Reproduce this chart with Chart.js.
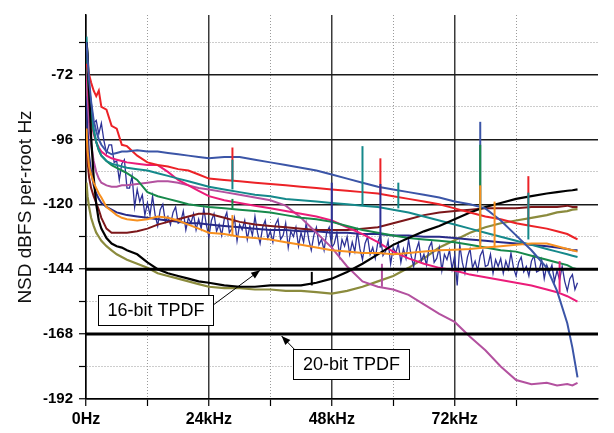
<!DOCTYPE html>
<html>
<head>
<meta charset="utf-8">
<title>NSD</title>
<script src="https://cdn.jsdelivr.net/npm/chart.js@4.4.0/dist/chart.umd.min.js"></script>
<style>
  html, body { margin: 0; padding: 0; background: #fff; }
  #wrap { width: 614px; height: 433px; }
</style>
</head>
<body>
<div id="wrap"><canvas id="nsd" width="614" height="433"></canvas></div>
<script>
// frequency grid (kHz) shared by the smoother traces
const FREQ = [0.1,0.3,0.6,1,1.5,2,2.5,3, 4,5,6,7,8, 10,12,14,16,18,20,22,24,
  27,30,33,36,39,42,45,48, 51,54,57,60,63,66,69,72, 75,78,81,84,87,90, 92,94,95,96];

// dBFS per root Hz
const blue = [-60,-66,-74,-82,-89,-93,-96,-98, -100.5,-101.5,-101,-100.5,-100.5,
  -100,-100.5,-100.5,-101,-101.5,-102,-102.5,-103, -102.5,-102.5,-103.5,-104.5,-105.5,-106.5,-107.5,-109,
  -110.5,-112,-113.5,-114.5,-115.5,-116.5,-117.5,-119, -120,-121.5,-126,-131.5,-137,-143.5, -152,-164,-173,-184];
const red = [-68,-70,-72,-75,-78,-80,-78,-84, -85,-91,-92,-98,-98.5,
  -102,-104.5,-105.5,-106,-107,-107.5,-109,-110.5, -111,-111.5,-112,-112.5,-113,-113.5,-114,-114.5,
  -115,-115.5,-116,-117,-118,-119,-120,-121.5, -123,-124.5,-125.5,-127,-128,-129, -130,-131,-132,-133];
const teal = [-58,-66,-76,-85,-92,-97,-100,-102, -104,-105,-105.5,-106,-106.5,
  -107,-107.5,-108.5,-109.5,-110.5,-111.5,-112.5,-113.5, -114.5,-115.5,-116.5,-117,-118,-118.5,-119,-119.5,
  -120,-120.5,-121,-122,-123,-124.5,-126,-127.5, -129,-130.5,-132,-133.5,-135,-136.5, -137.5,-138.5,-139,-139.5];
const green = [-66,-72,-80,-87,-93,-97,-100,-102, -104,-105.5,-106.5,-107.5,-108.5,
  -111,-115.5,-117,-118,-119,-120,-120.5,-121, -121.5,-122,-122.5,-123,-124,-125,-125.5,-126.5,
  -128,-129.5,-130.5,-131.5,-132.5,-133,-133.5,-134, -135,-136,-137,-137.5,-139,-140.5, -141.5,-142.5,-143.5,-144];
const pink = [-70,-76,-83,-89,-94,-97,-99,-100.5, -102,-103,-103.5,-104,-104.5,
  -105,-105.5,-105.5,-108,-111,-113,-115,-117, -118.5,-119.5,-120.5,-121.5,-122.5,-123.5,-124.5,-126,
  -128.5,-131,-134,-137.5,-140,-142,-143.5,-144.5, -146,-147,-148,-149,-150,-151.5, -152.5,-154,-155,-156];
const orchid = [-72,-80,-90,-98,-104,-108,-110.5,-112, -113,-113.5,-113.5,-113,-113,
  -112.5,-112,-111.5,-111.5,-112,-113,-114,-114.5, -115.5,-116.5,-117.5,-118.5,-120.5,-125,-130.5,-136,
  -143,-148.5,-150.5,-151.5,-153.5,-157,-160.5,-163.5, -169,-174,-180,-185,-186.5,-186, -187,-186.5,-187,-186];
const maroon = [-96,-104,-110,-114,-117,-119.5,-122,-125, -129,-130.5,-130.5,-130.5,-130.5,
  -130,-129,-127.5,-126.5,-125.5,-124.5,-123.5,-123.5, -125,-126.5,-127.5,-128,-128.5,-129,-129.5,-129.5,
  -129.5,-129,-128.5,-127,-125.5,-124,-123,-122.5, -122,-121.5,-121.5,-121.5,-121,-121, -121,-120.5,-121,-121];
const orange = [-92,-100,-106,-109,-112,-114,-116,-117.5, -121,-122.5,-124,-125,-125.5,
  -126,-125.5,-124.5,-125,-126,-127.5,-129,-130.5, -131,-132,-132.5,-133,-134,-135,-136,-137,
  -137.5,-138,-138,-138.5,-138,-137.5,-137,-136.8, -136.5,-136,-135.5,-135,-134.5,-134.5, -135.5,-136.5,-137,-137.5];
const black = [-60,-64,-78,-95,-110,-120,-126,-129, -132.5,-134.5,-135.5,-136,-137,
  -138.5,-141.5,-144,-145.5,-146.5,-147.5,-148.5,-149, -150,-150.5,-150.5,-150,-150,-150,-149,-147.5,
  -145,-142,-138.5,-135,-132.5,-130,-128,-125.5, -123,-121,-119.5,-118,-117,-116, -115.5,-115,-114.8,-114.5];
const olive = [-112,-117,-121,-125,-128,-130.5,-132,-133.5, -135.5,-137,-138.5,-139.5,-140.5,
  -142,-143.5,-145.5,-146.5,-147.5,-148.5,-149.5,-150.5, -151,-151,-151.5,-151.5,-152,-152,-152.5,-153,
  -152,-150.5,-148.5,-146.5,-143.5,-140,-136,-133.3, -130.5,-128.5,-127,-126,-125,-124, -123,-122.5,-122,-121.8];
const navySmooth = [-80,-92,-102,-108,-113,-116,-118,-119.5, -121,-122,-123,-123.5,-124,
  -124.5,-125,-125.5,-126,-126.5,-127,-127,-127.5, -128,-128.5,-129,-129.5,-129.5,-130,-130,-130.5,
  -130.5,-131,-131,-131.5,-131.5,-132,-132,-132.5, -133,-133.5,-134,-134.5,-135,-135.5, -136,-136.5,-137,-137];

// the noisy navy trace has its own 0.5 kHz grid
const NAVY_F = [0.2,0.5,
  1,1.5,2,2.5,3,3.5,4,4.5,5,5.5, 6,6.5,7,7.5,8,8.5,9,9.5,10,10.5,
  11,11.5,12,12.5,13,13.5,14,14.5,15,15.5, 16,16.5,17,17.5,18,18.5,19,19.5,20,20.5,
  21,21.5,22,22.5,23,23.5,24,24.5,25,25.5, 26,26.5,27,27.5,28,28.5,29,29.5,30,30.5,
  31,31.5,32,32.5,33,33.5,34,34.5,35,35.5, 36,36.5,37,37.5,38,38.5,39,39.5,40,40.5,
  41,41.5,42,42.5,43,43.5,44,44.5,45,45.5, 46,46.5,47,47.5,48,48.5,49,49.5,50,50.5,
  51,51.5,52,52.5,53,53.5,54,54.5,55,55.5, 56,56.5,57,57.5,58,58.5,59,59.5,60,60.5,
  61,61.5,62,62.5,63,63.5,64,64.5,65,65.5, 66,66.5,67,67.5,68,68.5,69,69.5,70,70.5,
  71,71.5,72,72.5,73,73.5,74,74.5,75,75.5, 76,76.5,77,77.5,78,78.5,79,79.5,80,80.5,
  81,81.5,82,82.5,83,83.5,84,84.5,85,85.5, 86,86.5,87,87.5,88,88.5,89,89.5,90,90.5,
  91,91.5,92,92.5,93,93.5,94,94.5,95,95.5, 96];
const navyNoisy = [-66,-74,
  -82,-90,-89,-94,-90,-96.5,-101,-98,-98,-104.5, -104,-111,-105,-103.5,-114,-114,-109.5,-121,-114.5,-119,
  -116.5,-124,-119.5,-124,-117,-124,-128,-122,-120,-126.5, -124.5,-127.5,-123,-121,-127,-126.5,-122.5,-129.5,-125,-127,
  -123.5,-129.5,-125.5,-129,-121.5,-127.5,-132,-126,-123.5,-130, -127.5,-131.5,-125.5,-123,-130.5,-129,-125,-133.5,-127.5,-129.5,
  -126,-133,-128,-131.5,-124.5,-130.5,-134.5,-128.5,-126,-132.5, -130,-134,-127.5,-125.5,-133,-131.5,-127,-136,-130,-132,
  -128.5,-135.5,-130.5,-134,-127,-133,-137,-131.5,-128.5,-135, -133,-137,-130.5,-128.5,-136,-134.5,-130.5,-139,-133,-135.5,
  -132,-138.5,-134,-137.5,-130,-136.5,-140.5,-134.5,-132,-138.5, -136,-140,-134,-131.5,-139,-137.5,-133.5,-142,-136,-138,
  -134.5,-141.5,-136.5,-140,-133,-139,-143,-137,-134,-141, -138.5,-142.5,-136,-134,-141.5,-140,-136,-144.5,-138.5,-140.5,
  -137,-144,-139,-150,-135,-141.5,-145.5,-139.5,-136.5,-143.5, -141,-144.5,-139,-137,-143,-142.5,-138.5,-145.5,-140.5,-143,
  -140,-145.5,-141,-144,-138,-143.5,-146.5,-141.5,-139.5,-145, -143,-146.5,-141,-139,-145,-144.5,-140.5,-147.5,-142.5,-145,
  -142.5,-148.5,-144.5,-148,-143,-148.5,-152,-147.5,-146,-151.5, -149];

// narrow tones: frequency, floor, peak, trace
const spikeFreq = [28.6, 28.6, 28.6, 28.6, 44.1, 48, 54, 57.5, 57.5, 57.8, 61, 77, 77, 77, 79.8, 86.4, 86.4, 92.5];
const spikeFrom = [-111.5, -114.5, -121.5, -131.5, -150, -133, -120.5, -116, -136, -150.5, -121.5, -121, -134.5, -136.5, -136, -128, -133, -152.5];
const spikeTo = [-99, -103.5, -118, -124, -145, -112, -98.5, -103, -112.5, -142, -112, -89.5, -98, -113, -119, -109.6, -115.7, -141];
const spikeOf = ['red','teal','green','orange','black','navyNoisy','teal','red','navyNoisy','orchid','teal','blue','green','orange','orange','red','teal','pink'];

// dither reference levels
const tpdfLevels = [-144, -168];

const colors = {
  blue: '#3b55a7', red: '#ec2227', teal: '#15898b', green: '#17894b', pink: '#eb1c79',
  orchid: '#b3519f', maroon: '#7c171a', orange: '#f7901f', black: '#000000', olive: '#8b8b3d',
  navySmooth: '#272a88', navyNoisy: '#2d3196'
};

function trace(name, vals, freqs, width) {
  return {
    label: name,
    data: freqs.map((f, i) => ({ x: f, y: vals[i] })),
    borderColor: colors[name],
    borderWidth: width || 2,
    pointRadius: 0,
    tension: 0,
    fill: false
  };
}

const tpdfSets = tpdfLevels.map(v => ({
  label: 'TPDF ' + v,
  data: [{ x: 0, y: v }, { x: 100, y: v }],
  borderColor: '#000', borderWidth: 3, pointRadius: 0
}));

const spikeSets = spikeFreq.map((f, i) => ({
  label: 'tone ' + f,
  data: [{ x: f, y: spikeFrom[i] }, { x: f, y: spikeTo[i] }],
  borderColor: colors[spikeOf[i]], borderWidth: 2, pointRadius: 0
})).reverse();

const datasets = [].concat(tpdfSets, spikeSets, [
  trace('blue', blue, FREQ),
  trace('red', red, FREQ),
  trace('orange', orange, FREQ),
  trace('black', black, FREQ, 2.2),
  trace('teal', teal, FREQ),
  trace('green', green, FREQ),
  trace('pink', pink, FREQ),
  trace('orchid', orchid, FREQ),
  trace('maroon', maroon, FREQ),
  trace('navySmooth', navySmooth, FREQ),
  trace('navyNoisy', navyNoisy, NAVY_F, 1.3),
  trace('olive', olive, FREQ, 2.2)
]);

// boxed labels with leader arrows, placed in axis units
const callouts = [
  { text: '16-bit TPDF', boxX: 13.56, boxY: -159.0, w: 115, h: 30, fromX: 24.8, fromY: -157.3, tipX: 34.0, tipY: -144.4 },
  { text: '20-bit TPDF', boxX: 51.7, boxY: -179.1, w: 116, h: 30, fromX: 41.0, fromY: -174.2, tipX: 38.2, tipY: -168.7 }
];

const calloutPlugin = {
  id: 'callouts',
  afterDatasetsDraw(chart) {
    const { ctx, scales: { x, y } } = chart;
    ctx.save();
    callouts.forEach(c => {
      const x0 = x.getPixelForValue(c.fromX), y0 = y.getPixelForValue(c.fromY);
      const x1 = x.getPixelForValue(c.tipX), y1 = y.getPixelForValue(c.tipY);
      ctx.strokeStyle = '#000';
      ctx.lineWidth = 1;
      ctx.beginPath();
      ctx.moveTo(x0, y0);
      ctx.lineTo(x1, y1);
      ctx.stroke();
      const a = Math.atan2(y1 - y0, x1 - x0);
      const L = 9, W = 3.5;
      ctx.beginPath();
      ctx.moveTo(x1, y1);
      ctx.lineTo(x1 - L * Math.cos(a) + W * Math.sin(a), y1 - L * Math.sin(a) - W * Math.cos(a));
      ctx.lineTo(x1 - L * Math.cos(a) - W * Math.sin(a), y1 - L * Math.sin(a) + W * Math.cos(a));
      ctx.closePath();
      ctx.fillStyle = '#000';
      ctx.fill();

      const bx = Math.round(x.getPixelForValue(c.boxX) - c.w / 2) + 0.5;
      const by = Math.round(y.getPixelForValue(c.boxY) - c.h / 2) + 0.5;
      ctx.fillStyle = '#fff';
      ctx.fillRect(bx, by, c.w, c.h);
      ctx.strokeRect(bx, by, c.w, c.h);
      ctx.fillStyle = '#000';
      ctx.font = '18px "Liberation Sans", Arial, sans-serif';
      ctx.textAlign = 'center';
      ctx.textBaseline = 'middle';
      ctx.fillText(c.text, bx + c.w / 2, by + c.h / 2 + 1);
    });
    ctx.restore();
  }
};

const majorOrMinor = (major, minor) => ctx => (ctx.tick && Math.abs(ctx.tick.value % 24) !== 0 ? minor : major);

new Chart(document.getElementById('nsd'), {
  type: 'line',
  data: { datasets: datasets },
  plugins: [calloutPlugin],
  options: {
    responsive: false,
    devicePixelRatio: 1,
    animation: false,
    layout: { padding: { top: 4, right: 16, left: 0, bottom: 0 } },
    plugins: { legend: { display: false }, tooltip: { enabled: false } },
    scales: {
      x: {
        type: 'linear',
        min: 0,
        max: 100,
        afterBuildTicks: s => { s.ticks = s.ticks.filter(t => t.value % 12 === 0); },
        afterFit: s => { s.height = 34; },
        ticks: {
          stepSize: 12,
          autoSkip: false,
          maxRotation: 0,
          padding: 4,
          color: '#000',
          font: { family: '"Liberation Sans", Arial, sans-serif', size: 16, weight: 'bold' },
          callback: v => (v === 0 ? '0Hz' : (v % 24 === 0 ? v + 'kHz' : ''))
        },
        grid: {
          color: majorOrMinor('#3a3a3a', '#9a9a9a'),
          lineWidth: majorOrMinor(1.5, 1),
          tickColor: '#000',
          tickLength: 7,
          tickWidth: 1.2
        },
        border: { color: '#000', width: 1.5, dash: majorOrMinor([], [1, 2]) }
      },
      y: {
        type: 'linear',
        min: -192,
        max: -50,
        afterBuildTicks: s => { s.ticks = s.ticks.filter(t => t.value % 12 === 0); },
        afterFit: s => { s.width = 86; },
        ticks: {
          stepSize: 12,
          autoSkip: false,
          padding: 6,
          color: '#000',
          font: { family: '"Liberation Sans", Arial, sans-serif', size: 15, weight: 'bold' },
          callback: v => (v % 24 === 0 ? String(v) : '')
        },
        grid: {
          color: majorOrMinor('#1a1a1a', '#9a9a9a'),
          lineWidth: majorOrMinor(1.5, 1),
          tickColor: '#000',
          tickLength: 7,
          tickWidth: 1.2
        },
        border: { color: '#000', width: 1.5, dash: majorOrMinor([], [1, 2]) },
        title: {
          display: true,
          text: 'NSD dBFS per-root Hz',
          color: '#111',
          padding: { top: 14, bottom: 0 },
          font: { family: '"Liberation Sans", Arial, sans-serif', size: 19 }
        }
      }
    }
  }
});
</script>
</body>
</html>
